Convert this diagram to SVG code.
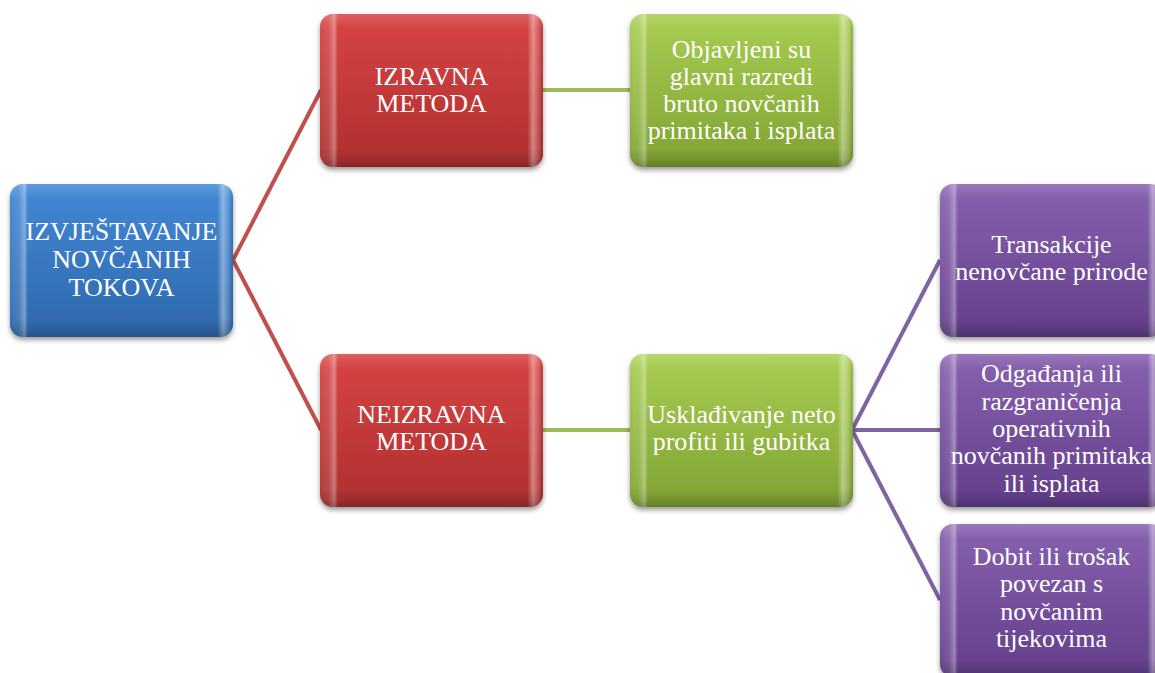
<svg xmlns="http://www.w3.org/2000/svg" width="1155" height="673" viewBox="0 0 1155 673">
<style>
.box{stroke:none}
.ov{stroke:none}
.t{font-family:"Liberation Serif","Times New Roman",serif;font-size:26px;fill:#ffffff;text-anchor:middle}
.cr{stroke:#C0504D;stroke-width:4;fill:none}
.cg{stroke:#9BBB59;stroke-width:4;fill:none}
.cp{stroke:#8064A2;stroke-width:4;fill:none}
</style>
<defs>
<filter id="sh" x="-10%" y="-10%" width="120%" height="130%">
<feDropShadow dx="0" dy="3" stdDeviation="2.5" flood-color="#000" flood-opacity="0.4"/>
</filter>
<linearGradient id="gBlue" x1="0" y1="0" x2="0" y2="1"><stop offset="0" stop-color="#4288D6"/><stop offset="1" stop-color="#2E68AC"/></linearGradient>
<linearGradient id="gRed" x1="0" y1="0" x2="0" y2="1"><stop offset="0" stop-color="#D84444"/><stop offset="1" stop-color="#AE2F2F"/></linearGradient>
<linearGradient id="gGreen" x1="0" y1="0" x2="0" y2="1"><stop offset="0" stop-color="#A9CE52"/><stop offset="1" stop-color="#7FA232"/></linearGradient>
<linearGradient id="gPurple" x1="0" y1="0" x2="0" y2="1"><stop offset="0" stop-color="#8762AF"/><stop offset="1" stop-color="#633E8A"/></linearGradient>
<linearGradient id="side" x1="0" y1="0" x2="1" y2="0">
<stop offset="0" stop-color="#fff" stop-opacity="0.05"/>
<stop offset="0.04" stop-color="#fff" stop-opacity="0.12"/>
<stop offset="0.065" stop-color="#fff" stop-opacity="0.35"/>
<stop offset="0.08" stop-color="#fff" stop-opacity="0"/>
<stop offset="0.93" stop-color="#fff" stop-opacity="0"/>
<stop offset="0.955" stop-color="#fff" stop-opacity="0.4"/>
<stop offset="0.98" stop-color="#fff" stop-opacity="0.15"/>
<stop offset="1" stop-color="#000" stop-opacity="0.12"/>
</linearGradient>
<linearGradient id="vert" x1="0" y1="0" x2="0" y2="1">
<stop offset="0" stop-color="#fff" stop-opacity="0.15"/>
<stop offset="0.06" stop-color="#fff" stop-opacity="0.06"/>
<stop offset="0.1" stop-color="#fff" stop-opacity="0"/>
<stop offset="0.88" stop-color="#000" stop-opacity="0"/>
<stop offset="0.95" stop-color="#000" stop-opacity="0.1"/>
<stop offset="1" stop-color="#000" stop-opacity="0.22"/>
</linearGradient>
</defs>
<rect width="1155" height="673" fill="#ffffff"/>
<g id="connectors">
<line class="cr" x1="233" y1="260" x2="321" y2="90"/>
<line class="cr" x1="233" y1="260" x2="321" y2="430"/>
<line class="cg" x1="542" y1="90" x2="630" y2="90"/>
<line class="cg" x1="542" y1="430" x2="630" y2="430"/>
<line class="cp" x1="852" y1="430" x2="940" y2="260"/>
<line class="cp" x1="852" y1="430" x2="940" y2="430"/>
<line class="cp" x1="852" y1="430" x2="940" y2="600"/>
</g>
<g id="n-root">
<rect class="box" x="10" y="184" width="223" height="153" rx="13" fill="url(#gBlue)" filter="url(#sh)"/>
<rect class="ov" x="10" y="184" width="223" height="153" rx="13" fill="url(#side)"/>
<rect class="ov" x="10" y="184" width="223" height="153" rx="13" fill="url(#vert)"/>
<text class="t" x="121.5" y="240">IZVJEŠTAVANJE</text>
<text class="t" x="121.5" y="268">NOVČANIH</text>
<text class="t" x="121.5" y="296">TOKOVA</text>
</g>
<g id="n-izravna">
<rect class="box" x="320" y="14" width="223" height="153" rx="13" fill="url(#gRed)" filter="url(#sh)"/>
<rect class="ov" x="320" y="14" width="223" height="153" rx="13" fill="url(#side)"/>
<rect class="ov" x="320" y="14" width="223" height="153" rx="13" fill="url(#vert)"/>
<text class="t" x="431.5" y="85">IZRAVNA</text>
<text class="t" x="431.5" y="112">METODA</text>
</g>
<g id="n-objavljeni">
<rect class="box" x="630" y="14" width="223" height="153" rx="13" fill="url(#gGreen)" filter="url(#sh)"/>
<rect class="ov" x="630" y="14" width="223" height="153" rx="13" fill="url(#side)"/>
<rect class="ov" x="630" y="14" width="223" height="153" rx="13" fill="url(#vert)"/>
<text class="t" x="741.5" y="58">Objavljeni su</text>
<text class="t" x="741.5" y="85">glavni razredi</text>
<text class="t" x="741.5" y="112">bruto novčanih</text>
<text class="t" x="741.5" y="139">primitaka i isplata</text>
</g>
<g id="n-neizravna">
<rect class="box" x="320" y="354" width="223" height="153" rx="13" fill="url(#gRed)" filter="url(#sh)"/>
<rect class="ov" x="320" y="354" width="223" height="153" rx="13" fill="url(#side)"/>
<rect class="ov" x="320" y="354" width="223" height="153" rx="13" fill="url(#vert)"/>
<text class="t" x="431.5" y="423">NEIZRAVNA</text>
<text class="t" x="431.5" y="450">METODA</text>
</g>
<g id="n-uskladjivanje">
<rect class="box" x="630" y="354" width="223" height="153" rx="13" fill="url(#gGreen)" filter="url(#sh)"/>
<rect class="ov" x="630" y="354" width="223" height="153" rx="13" fill="url(#side)"/>
<rect class="ov" x="630" y="354" width="223" height="153" rx="13" fill="url(#vert)"/>
<text class="t" x="741.5" y="423">Usklađivanje neto</text>
<text class="t" x="741.5" y="450">profiti ili gubitka</text>
</g>
<g id="n-transakcije">
<rect class="box" x="940" y="184" width="223" height="153" rx="13" fill="url(#gPurple)" filter="url(#sh)"/>
<rect class="ov" x="940" y="184" width="223" height="153" rx="13" fill="url(#side)"/>
<rect class="ov" x="940" y="184" width="223" height="153" rx="13" fill="url(#vert)"/>
<text class="t" x="1051.5" y="253">Transakcije</text>
<text class="t" x="1051.5" y="280">nenovčane prirode</text>
</g>
<g id="n-odgadjanja">
<rect class="box" x="940" y="354" width="223" height="153" rx="13" fill="url(#gPurple)" filter="url(#sh)"/>
<rect class="ov" x="940" y="354" width="223" height="153" rx="13" fill="url(#side)"/>
<rect class="ov" x="940" y="354" width="223" height="153" rx="13" fill="url(#vert)"/>
<text class="t" x="1051.5" y="382">Odgađanja ili</text>
<text class="t" x="1051.5" y="410">razgraničenja</text>
<text class="t" x="1051.5" y="437">operativnih</text>
<text class="t" x="1051.5" y="464">novčanih primitaka</text>
<text class="t" x="1051.5" y="492">ili isplata</text>
</g>
<g id="n-dobit">
<rect class="box" x="940" y="524" width="223" height="153" rx="13" fill="url(#gPurple)" filter="url(#sh)"/>
<rect class="ov" x="940" y="524" width="223" height="153" rx="13" fill="url(#side)"/>
<rect class="ov" x="940" y="524" width="223" height="153" rx="13" fill="url(#vert)"/>
<text class="t" x="1051.5" y="565">Dobit ili trošak</text>
<text class="t" x="1051.5" y="592">povezan s</text>
<text class="t" x="1051.5" y="620">novčanim</text>
<text class="t" x="1051.5" y="647">tijekovima</text>
</g>
</svg>
